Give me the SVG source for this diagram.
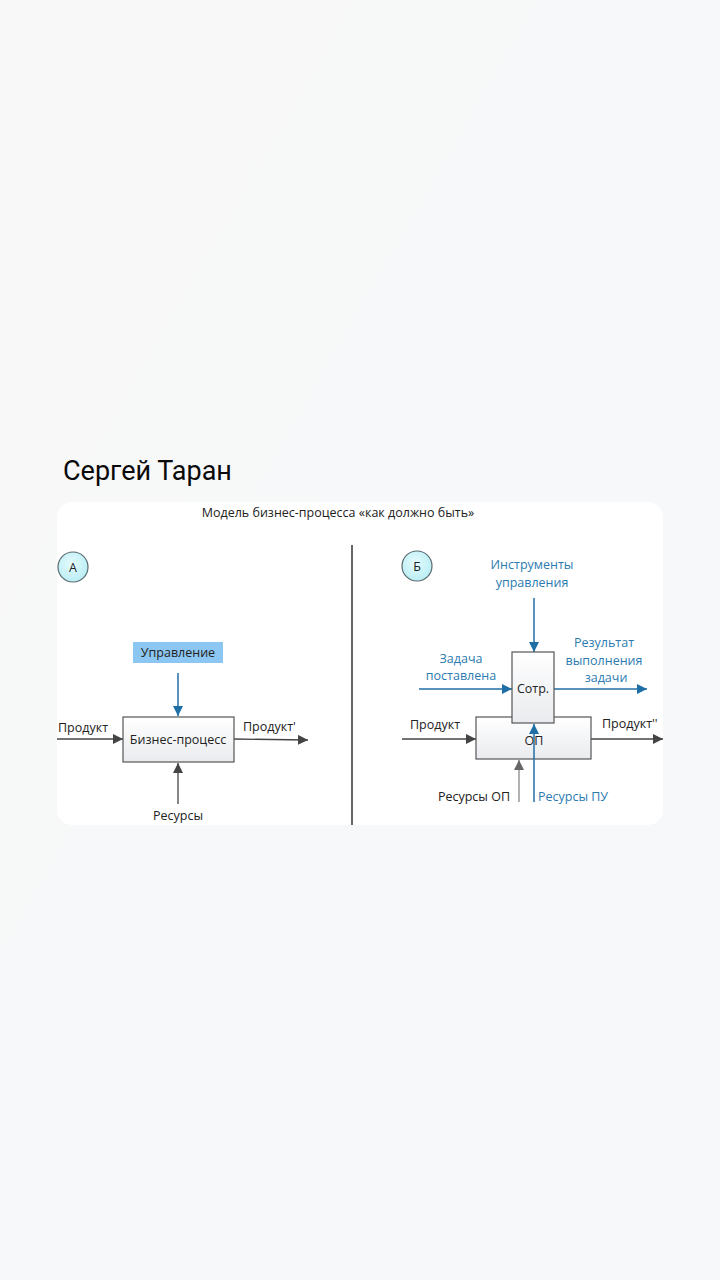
<svg xmlns="http://www.w3.org/2000/svg" width="720" height="1280" viewBox="0 0 720 1280">
<defs>
<linearGradient id="bg" x1="0" y1="0" x2="1" y2="1">
<stop offset="0" stop-color="#f8f8f8"/><stop offset="1" stop-color="#f6f8fa"/>
</linearGradient>
<linearGradient id="boxg" x1="0" y1="0" x2="0" y2="1">
<stop offset="0" stop-color="#ffffff"/><stop offset="1" stop-color="#e9ebee"/>
</linearGradient>
<radialGradient id="circ" cx="0.45" cy="0.4" r="0.6">
<stop offset="0" stop-color="#e6fbfd"/><stop offset="1" stop-color="#b9eef5"/>
</radialGradient>
<marker id="ak" viewBox="0 0 10 10" refX="10" refY="5" markerWidth="10" markerHeight="10" markerUnits="userSpaceOnUse" orient="auto">
<path d="M0,0 L10,5 L0,10 Z" fill="#444"/>
</marker>
<marker id="ag" viewBox="0 0 10 10" refX="10" refY="5" markerWidth="10" markerHeight="10" markerUnits="userSpaceOnUse" orient="auto">
<path d="M0,0 L10,5 L0,10 Z" fill="#666"/>
</marker>
<marker id="ab" viewBox="0 0 10 10" refX="10" refY="5" markerWidth="10" markerHeight="10" markerUnits="userSpaceOnUse" orient="auto">
<path d="M0,0 L10,5 L0,10 Z" fill="#1f6fa6"/>
</marker>
</defs>
<style>
.t{font-family:"Open Sans","DejaVu Sans",sans-serif;font-size:12.5px;fill:#222}
.tb{font-family:"Open Sans","DejaVu Sans",sans-serif;font-size:12.5px;fill:#2b7bb0}
.ln{stroke:#444;stroke-width:1.3;fill:none}
.lg{stroke:#888;stroke-width:1.3;fill:none}
.lb{stroke:#1f6fa6;stroke-width:1.5;fill:none}
.box{fill:url(#boxg);stroke:#555;stroke-width:1.2}
</style>
<rect width="720" height="1280" fill="url(#bg)"/>
<text x="63" y="480" font-family="Roboto,'Noto Sans',sans-serif" font-size="27" fill="#0a0a0a">Сергей Таран</text>
<rect x="57" y="502" width="606" height="323" rx="15" fill="#ffffff"/>
<text x="338" y="517" text-anchor="middle" class="t" font-size="12.5">Модель бизнес-процесса «как должно быть»</text>
<line x1="352" y1="545" x2="352" y2="825" stroke="#666" stroke-width="2"/>

<g id="connectors">
<line class="lb" x1="178" y1="673" x2="178" y2="716" marker-end="url(#ab)"/>
<line class="ln" x1="57" y1="739" x2="123" y2="739" marker-end="url(#ak)"/>
<line class="ln" x1="234" y1="739" x2="308" y2="740" marker-end="url(#ak)"/>
<line class="ln" x1="178" y1="804" x2="178" y2="763" marker-end="url(#ak)"/>

<line class="lb" x1="534" y1="598" x2="534" y2="652" marker-end="url(#ab)"/>
<line class="lb" x1="419" y1="689" x2="512" y2="689" marker-end="url(#ab)"/>
<line class="lb" x1="554" y1="689" x2="647" y2="689" marker-end="url(#ab)"/>
<line class="ln" x1="402" y1="739" x2="476" y2="739" marker-end="url(#ak)"/>
<line class="ln" x1="591" y1="739" x2="663" y2="739" marker-end="url(#ak)"/>
<line class="lg" x1="519" y1="802" x2="519" y2="760" marker-end="url(#ag)"/>
</g>

<g id="circleA">
<circle cx="73" cy="567" r="15" fill="url(#circ)" stroke="#5a6b70" stroke-width="1.2"/>
<text x="73" y="572" text-anchor="middle" class="t" font-size="14">А</text>
</g>
<g id="circleB">
<circle cx="417" cy="566" r="15" fill="url(#circ)" stroke="#5a6b70" stroke-width="1.2"/>
<text x="417" y="571" text-anchor="middle" class="t" font-size="14">Б</text>
</g>

<g id="upravlenie">
<rect x="133" y="642" width="90" height="21" fill="#8cc6f2"/>
<text x="178" y="657" text-anchor="middle" class="t">Управление</text>
</g>
<g id="biznes">
<rect class="box" x="123" y="717" width="111" height="45"/>
<text x="178" y="744" text-anchor="middle" class="t">Бизнес-процесс</text>
</g>
<text x="58" y="732" class="t">Продукт</text>
<text x="243" y="731" class="t">Продукт'</text>
<text x="178" y="820" text-anchor="middle" class="t">Ресурсы</text>

<g id="op">
<rect class="box" x="476" y="717" width="115" height="42"/>
<text x="534" y="745" text-anchor="middle" class="t" fill="#555">ОП</text>
</g>
<g id="sotr">
<rect class="box" x="512" y="652" width="42" height="71"/>
<text x="533" y="693" text-anchor="middle" class="t" font-size="10.5">Сотр.</text>
</g>
<line class="lb" x1="534" y1="802" x2="534" y2="724" marker-end="url(#ab)"/>

<text x="532" y="569" text-anchor="middle" class="tb">Инструменты</text>
<text x="532" y="587" text-anchor="middle" class="tb">управления</text>
<text x="461" y="663" text-anchor="middle" class="tb">Задача</text>
<text x="461" y="680" text-anchor="middle" class="tb">поставлена</text>
<text x="604" y="647" text-anchor="middle" class="tb">Результат</text>
<text x="604" y="665" text-anchor="middle" class="tb">выполнения</text>
<text x="606" y="682" text-anchor="middle" class="tb">задачи</text>
<text x="410" y="729" class="t">Продукт</text>
<text x="602" y="728" class="t">Продукт''</text>
<text x="510" y="801" text-anchor="end" class="t">Ресурсы ОП</text>
<text x="538" y="801" class="tb">Ресурсы ПУ</text>
</svg>
